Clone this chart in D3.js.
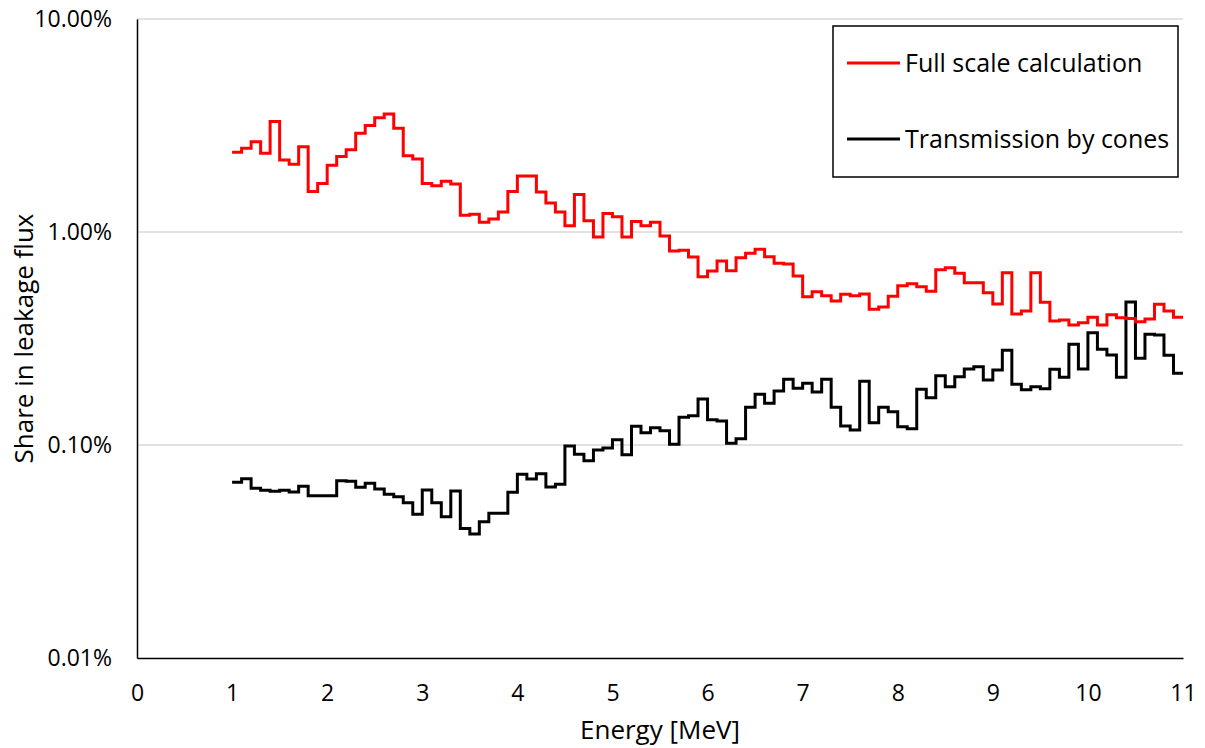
<!DOCTYPE html>
<html>
<head>
<meta charset="utf-8">
<script src="https://cdn.jsdelivr.net/npm/d3@7"></script>
<style>
  body { margin: 0; background: #fff; }
  svg { font-family: "Open Sans", sans-serif; }
</style>
</head>
<body>
<svg id="chart" width="1205" height="748"></svg>
<script>
// energy bins: 0.1 MeV wide, from 1 to 11 MeV (values in %)
const binStarts = d3.range(100).map(i => +(1 + i * 0.1).toFixed(1));

const fullScale = [
  2.37, 2.47, 2.65, 2.34, 3.30, 2.18, 2.08, 2.51, 1.55, 1.69,
  2.06, 2.26, 2.43, 2.91, 3.16, 3.44, 3.58, 3.07, 2.28, 2.20,
  1.69, 1.65, 1.73, 1.68, 1.20, 1.21, 1.11, 1.15, 1.24, 1.55,
  1.83, 1.83, 1.54, 1.37, 1.24, 1.07, 1.50, 1.13, 0.947, 1.22,
  1.18, 0.947, 1.12, 1.07, 1.11, 0.958, 0.814, 0.820, 0.763, 0.617,
  0.656, 0.731, 0.658, 0.757, 0.794, 0.829, 0.766, 0.713, 0.708, 0.622,
  0.497, 0.524, 0.502, 0.474, 0.510, 0.502, 0.512, 0.434, 0.444, 0.499,
  0.560, 0.572, 0.554, 0.527, 0.665, 0.680, 0.640, 0.578, 0.578, 0.519,
  0.459, 0.644, 0.412, 0.426, 0.644, 0.468, 0.382, 0.386, 0.366, 0.375,
  0.398, 0.366, 0.409, 0.396, 0.393, 0.379, 0.390, 0.458, 0.426, 0.398
];

const cones = [
  0.0668, 0.0695, 0.0626, 0.0613, 0.0606, 0.0613, 0.0602, 0.0640, 0.0578, 0.0578,
  0.0578, 0.0680, 0.0675, 0.0633, 0.0661, 0.0621, 0.0587, 0.0572, 0.0536, 0.0473,
  0.0615, 0.0536, 0.0461, 0.0608, 0.0405, 0.0382, 0.0436, 0.0478, 0.0478, 0.0600,
  0.0729, 0.0692, 0.0733, 0.0635, 0.0654, 0.0989, 0.0904, 0.0844, 0.0947, 0.0968,
  0.1059, 0.0901, 0.1224, 0.1142, 0.1206, 0.1167, 0.1008, 0.1349, 0.1373, 0.1644,
  0.1315, 0.1297, 0.1019, 0.1070, 0.1503, 0.1730, 0.1570, 0.1793, 0.2035, 0.1846,
  0.1949, 0.1773, 0.2035, 0.1503, 0.1228, 0.1176, 0.1991, 0.1272, 0.1503, 0.1433,
  0.1219, 0.1193, 0.1826, 0.1668, 0.2115, 0.1878, 0.2093, 0.2274, 0.2331, 0.2019,
  0.2250, 0.2783, 0.1928, 0.1818, 0.1878, 0.1838, 0.2267, 0.2079, 0.2971, 0.2274,
  0.3367, 0.2813, 0.2646, 0.2079, 0.4691, 0.2553, 0.3310, 0.3285, 0.2638, 0.2171
];

const xTicks = [0, 1, 2, 3, 4, 5, 6, 7, 8, 9, 10, 11];
const yTicks = [0.01, 0.1, 1, 10];

const width = 1205, height = 748;
const margin = { top: 19, right: 22, bottom: 90, left: 137 };
const tickFont = 23;
const titleFont = 26;
const legendFont = 25;

const svg = d3.select('#chart');

const x = d3.scaleLinear()
  .domain([0, 11])
  .range([margin.left, width - margin.right]);

const y = d3.scaleLog()
  .domain([0.01, 10])
  .range([height - margin.bottom, margin.top]);

// gridlines
svg.append('g')
  .selectAll('line')
  .data(yTicks.slice(1))
  .enter().append('line')
  .attr('x1', x(0)).attr('x2', x(11))
  .attr('y1', d => y(d)).attr('y2', d => y(d))
  .attr('stroke', '#d9d9d9')
  .attr('stroke-width', 1.5);

// axes
const yAxis = svg.append('g')
  .attr('transform', `translate(${margin.left},0)`)
  .call(d3.axisLeft(y).tickValues(yTicks).tickSize(0).tickPadding(25)
    .tickFormat(d => d.toFixed(2) + '%'));
yAxis.select('.domain').attr('stroke', '#000').attr('stroke-width', 1.5);
yAxis.selectAll('text').attr('font-size', tickFont).attr('fill', '#000')
  .attr('font-family', '"Open Sans", sans-serif');

const xAxis = svg.append('g')
  .attr('transform', `translate(0,${height - margin.bottom})`)
  .call(d3.axisBottom(x).tickValues(xTicks).tickSize(0).tickPadding(27)
    .tickFormat(d3.format('d')));
xAxis.select('.domain').attr('stroke', '#000').attr('stroke-width', 1.5);
xAxis.selectAll('text').attr('font-size', tickFont).attr('fill', '#000')
  .attr('font-family', '"Open Sans", sans-serif');

// axis titles
svg.append('text')
  .attr('x', (x(0) + x(11)) / 2)
  .attr('y', 739)
  .attr('text-anchor', 'middle')
  .attr('font-size', titleFont)
  .text('Energy [MeV]');

svg.append('text')
  .attr('transform', `translate(33,${(y(10) + y(0.01)) / 2}) rotate(-90)`)
  .attr('text-anchor', 'middle')
  .attr('font-size', titleFont)
  .text('Share in leakage flux');

// step lines
const stepLine = d3.line()
  .x(d => x(d[0]))
  .y(d => y(d[1]))
  .curve(d3.curveStepAfter);

function stepData(vals) {
  const pts = binStarts.map((e, i) => [e, vals[i]]);
  pts.push([11, vals[vals.length - 1]]);
  return pts;
}

svg.append('path')
  .datum(stepData(cones))
  .attr('d', stepLine)
  .attr('fill', 'none')
  .attr('stroke', '#000')
  .attr('stroke-width', 3);

svg.append('path')
  .datum(stepData(fullScale))
  .attr('d', stepLine)
  .attr('fill', 'none')
  .attr('stroke', '#ff0000')
  .attr('stroke-width', 3);

// legend
const legend = svg.append('g');
legend.append('rect')
  .attr('x', 833).attr('y', 26)
  .attr('width', 345).attr('height', 151)
  .attr('fill', '#fff')
  .attr('stroke', '#000')
  .attr('stroke-width', 1.5);

const legendItems = [
  { label: 'Full scale calculation', color: '#ff0000', y: 63 },
  { label: 'Transmission by cones', color: '#000', y: 139 }
];
legendItems.forEach(item => {
  legend.append('line')
    .attr('x1', 847).attr('x2', 900)
    .attr('y1', item.y).attr('y2', item.y)
    .attr('stroke', item.color)
    .attr('stroke-width', 3);
  legend.append('text')
    .attr('x', 905).attr('y', item.y)
    .attr('dy', '0.35em')
    .attr('font-size', legendFont)
    .text(item.label);
});
</script>
</body>
</html>
